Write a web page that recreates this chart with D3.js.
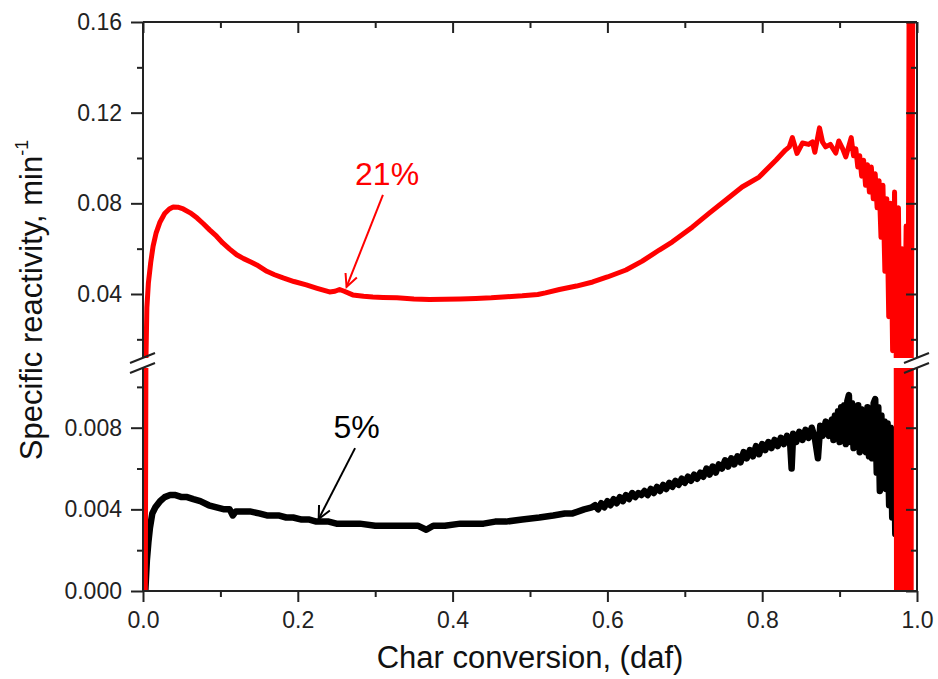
<html>
<head>
<style>
  body { margin: 0; background: #fff; }
  text { font-family: "Liberation Sans", Arial, sans-serif; }
</style>
</head>
<body>
<script src="https://cdn.jsdelivr.net/npm/d3@7"></script>
<script>
// char conversion vs specific reactivity
var red21 = [[0.003,0.0],[0.004,0.015],[0.005,0.034],[0.007,0.045],[0.010,0.054],[0.013,0.061],[0.017,0.067],
  [0.022,0.0718],[0.028,0.0755],[0.034,0.0775],[0.039,0.0784],[0.045,0.0783],[0.052,0.0775],[0.061,0.0758],
  [0.070,0.0735],[0.078,0.0710],[0.086,0.0683],[0.095,0.0655],[0.103,0.0625],[0.112,0.0598],[0.121,0.0573],
  [0.130,0.0556],[0.140,0.0540],[0.147,0.0528],[0.160,0.0500],[0.170,0.0485],[0.181,0.0471],[0.195,0.0455],
  [0.211,0.0440],[0.225,0.0425],[0.241,0.0409],[0.248,0.0412],[0.254,0.0420],[0.260,0.0412],[0.271,0.0396],
  [0.285,0.0390],[0.297,0.0387],[0.310,0.0385],[0.328,0.0383],[0.350,0.0378],[0.370,0.0376],[0.390,0.0377],
  [0.410,0.0378],[0.430,0.0380],[0.450,0.0383],[0.470,0.0388],[0.490,0.0392],[0.510,0.0398],[0.520,0.0405],
  [0.538,0.0420],[0.560,0.0435],[0.581,0.0453],[0.600,0.0475],[0.624,0.0506],[0.645,0.0545],[0.667,0.0594],
  [0.684,0.0630],[0.710,0.0696],[0.732,0.0758],[0.753,0.0815],[0.774,0.0872],[0.796,0.0916],[0.818,0.0991],
  [0.830,0.1035],[0.835,0.1049],[0.839,0.1090],[0.845,0.1020],[0.852,0.1066],[0.860,0.1060],[0.865,0.1071],
  [0.868,0.1025],[0.874,0.1133],[0.878,0.1070],[0.882,0.1049],[0.888,0.1060],[0.895,0.1022],[0.899,0.1075],
  [0.904,0.1040],[0.908,0.1005],[0.915,0.1090],[0.918,0.1010],[0.921,0.1040],[0.9235,0.0960],[0.926,0.1010],
  [0.9285,0.0920],[0.931,0.0990],[0.9335,0.0880],[0.936,0.0970],[0.9385,0.0850],[0.941,0.0960],[0.9435,0.0820],
  [0.946,0.0930],[0.9485,0.0780],[0.951,0.0900],[0.9535,0.0650],[0.956,0.0880],[0.9585,0.0500],[0.961,0.0820],
  [0.9635,0.0300],[0.966,0.0800],[0.9685,0.0150],[0.971,0.0850],[0.9735,0.0],[0.976,0.0780],[0.9785,0.0],
  [0.981,0.0600],[0.9835,0.0],[0.986,0.0700],[0.9885,0.0],[0.990,0.2000],[0.9925,0.0],[0.995,0.2000],[0.997,0.2000]];

var black5 = [[0.003,0.0],[0.005,0.0015],[0.007,0.0024],[0.009,0.0031],[0.012,0.0038],[0.016,0.0041],[0.022,0.0044],
  [0.028,0.0046],[0.035,0.0047],[0.042,0.0047],[0.050,0.0046],[0.057,0.0046],[0.065,0.0045],[0.074,0.0044],
  [0.085,0.0042],[0.095,0.0041],[0.105,0.0040],[0.112,0.0040],[0.116,0.0037],[0.120,0.0039],[0.130,0.0039],
  [0.138,0.0039],[0.150,0.0038],[0.160,0.0037],[0.175,0.0037],[0.185,0.0036],[0.194,0.0036],[0.205,0.0035],
  [0.215,0.0035],[0.224,0.0034],[0.240,0.0034],[0.250,0.0033],[0.263,0.0033],[0.280,0.0033],[0.300,0.0032],
  [0.320,0.0032],[0.340,0.0032],[0.355,0.0032],[0.366,0.0030],[0.375,0.0032],[0.390,0.0032],[0.410,0.0033],
  [0.426,0.0033],[0.440,0.0033],[0.455,0.0034],[0.469,0.0034],[0.490,0.0035],[0.512,0.0036],[0.530,0.0037],
  [0.545,0.0038],[0.555,0.0038],[0.570,0.0040],[0.580,0.0041],
  [0.584,0.0042],[0.588,0.0040],[0.592,0.0043],[0.596,0.0041],[0.600,0.0044],[0.604,0.0042],[0.608,0.0045],
  [0.612,0.0043],[0.616,0.0046],[0.620,0.0044],[0.624,0.0047],[0.628,0.0045],[0.632,0.0048],[0.636,0.0046],
  [0.640,0.0048],[0.644,0.0047],[0.648,0.0049],[0.652,0.0047],[0.656,0.0050],[0.660,0.0048],[0.664,0.0051],
  [0.668,0.0049],[0.672,0.0052],[0.676,0.0050],[0.680,0.0053],[0.684,0.0051],[0.688,0.0054],[0.692,0.0052],
  [0.696,0.0055],[0.700,0.0053],[0.704,0.0056],[0.708,0.0054],[0.712,0.0057],[0.716,0.0055],[0.720,0.0058],
  [0.724,0.0056],[0.728,0.0060],[0.732,0.0057],[0.736,0.0061],[0.740,0.0058],[0.744,0.0062],[0.748,0.0060],
  [0.752,0.0064],[0.756,0.0061],[0.760,0.0065],[0.764,0.0062],[0.768,0.0066],[0.772,0.0063],[0.776,0.0068],
  [0.780,0.0065],[0.784,0.0069],[0.788,0.0066],[0.792,0.0071],[0.796,0.0067],[0.800,0.0072],[0.804,0.0069],
  [0.808,0.0073],[0.812,0.0070],[0.816,0.0074],[0.820,0.0071],[0.824,0.0075],[0.828,0.0072],[0.832,0.0076],
  [0.836,0.0073],[0.838,0.0060],[0.840,0.0077],[0.844,0.0073],[0.848,0.0078],[0.852,0.0074],[0.856,0.0079],
  [0.860,0.0075],[0.864,0.0080],[0.868,0.0075],[0.872,0.0065],[0.875,0.0081],[0.878,0.0076],[0.882,0.0083],
  [0.886,0.0076],[0.890,0.0084],[0.892,0.0074],[0.894,0.0086],[0.896,0.0075],[0.898,0.0088],[0.900,0.0073],
  [0.902,0.0090],[0.904,0.0074],[0.906,0.0091],[0.908,0.0072],[0.910,0.0093],[0.912,0.0096],[0.914,0.0073],
  [0.916,0.0092],[0.918,0.0070],[0.920,0.0090],[0.922,0.0071],[0.924,0.0091],[0.926,0.0068],[0.928,0.0089],
  [0.930,0.0070],[0.932,0.0088],[0.934,0.0068],[0.936,0.0090],[0.938,0.0066],[0.940,0.0089],[0.942,0.0065],
  [0.944,0.0092],[0.946,0.0094],[0.948,0.0058],[0.950,0.0090],[0.952,0.0049],[0.954,0.0086],[0.956,0.0058],
  [0.958,0.0083],[0.960,0.0050],[0.962,0.0082],[0.964,0.0042],[0.966,0.0080],[0.968,0.0036],[0.970,0.0079],
  [0.972,0.0028],[0.974,0.0078],[0.976,0.0020],[0.977,0.0060],[0.978,0.0010],[0.979,0.0]];

var xTicks = [0, 0.2, 0.4, 0.6, 0.8, 1.0];
var xMinor = [0.1, 0.3, 0.5, 0.7, 0.9];
var upperTicks = [0.04, 0.08, 0.12, 0.16];
var upperMinor = [0.02, 0.06, 0.10, 0.14];
var lowerTicks = [0, 0.004, 0.008];
var lowerMinor = [0.002, 0.006, 0.010];

var W = 938, H = 679;
var pLeft = 143, pRight = 917, pTop = 22, pBottom = 591, breakTop = 358, breakBot = 368;

var svg = d3.select("body").append("svg").attr("width", W).attr("height", H);
svg.append("rect").attr("width", W).attr("height", H).attr("fill", "#fff");

var x = d3.scaleLinear().domain([0, 1]).range([pLeft, pRight]);
var yU = d3.scaleLinear().domain([0.01176, 0.16]).range([breakTop, pTop]);
var yL = d3.scaleLinear().domain([0, 0.010925]).range([pBottom, breakBot]);

var defs = svg.append("defs");
defs.append("clipPath").attr("id", "clipU").append("rect")
  .attr("x", pLeft).attr("y", pTop).attr("width", pRight - pLeft).attr("height", breakTop - pTop);
defs.append("clipPath").attr("id", "clipL").append("rect")
  .attr("x", pLeft).attr("y", breakBot).attr("width", pRight - pLeft).attr("height", pBottom - breakBot);

var panels = [{ y: yU, clip: "clipU" }, { y: yL, clip: "clipL" }];
var series = [{ data: black5, color: "#000", w: 6.5 }, { data: red21, color: "#ff0000", w: 5 }];

panels.forEach(function(p) {
  var g = svg.append("g").attr("clip-path", "url(#" + p.clip + ")");
  var line = d3.line().x(function(d) { return x(d[0]); }).y(function(d) { return p.y(d[1]); });
  series.forEach(function(s) {
    g.append("path").attr("d", line(s.data))
      .attr("fill", "none").attr("stroke", s.color).attr("stroke-width", s.w)
      .attr("stroke-linejoin", "round");
  });
});

// axes
function styleAxis(g) {
  g.select(".domain").remove();
  g.selectAll(".tick line").attr("stroke", "#222").attr("stroke-width", 2);
  g.selectAll(".tick text").attr("font-size", 23).attr("fill", "#222")
    .attr("font-family", "Liberation Sans, Arial, sans-serif");
}

svg.append("g").attr("transform", "translate(0," + pBottom + ")")
  .call(d3.axisBottom(x).tickValues(xTicks).tickSize(11).tickPadding(10).tickFormat(d3.format(".1f")))
  .call(styleAxis);
svg.append("g").attr("transform", "translate(0," + pBottom + ")")
  .call(d3.axisBottom(x).tickValues(xMinor).tickSize(6).tickFormat(""))
  .call(styleAxis);
svg.append("g").attr("transform", "translate(0," + pTop + ")")
  .call(d3.axisBottom(x).tickValues(xTicks).tickSize(11).tickFormat(""))
  .call(styleAxis);
svg.append("g").attr("transform", "translate(0," + pTop + ")")
  .call(d3.axisBottom(x).tickValues(xMinor).tickSize(6).tickFormat(""))
  .call(styleAxis);

[[yU, upperTicks, upperMinor, ".2f"], [yL, lowerTicks, lowerMinor, ".3f"]].forEach(function(a) {
  svg.append("g").attr("transform", "translate(" + pLeft + ",0)")
    .call(d3.axisLeft(a[0]).tickValues(a[1]).tickSize(12).tickPadding(9).tickFormat(d3.format(a[3])))
    .call(styleAxis);
  svg.append("g").attr("transform", "translate(" + pLeft + ",0)")
    .call(d3.axisLeft(a[0]).tickValues(a[2]).tickSize(6).tickFormat(""))
    .call(styleAxis);
  svg.append("g").attr("transform", "translate(" + pRight + ",0)")
    .call(d3.axisLeft(a[0]).tickValues(a[1]).tickSize(11).tickFormat(""))
    .call(styleAxis);
  svg.append("g").attr("transform", "translate(" + pRight + ",0)")
    .call(d3.axisLeft(a[0]).tickValues(a[2]).tickSize(6).tickFormat(""))
    .call(styleAxis);
});

// frame with gap at the break
var frame = svg.append("g").attr("stroke", "#222").attr("stroke-width", 2).attr("fill", "none");
frame.append("line").attr("x1", pLeft).attr("x2", pRight).attr("y1", pTop).attr("y2", pTop);
frame.append("line").attr("x1", pLeft).attr("x2", pRight).attr("y1", pBottom).attr("y2", pBottom);
[pLeft, pRight].forEach(function(xx) {
  frame.append("line").attr("x1", xx).attr("x2", xx).attr("y1", pTop).attr("y2", breakTop);
  frame.append("line").attr("x1", xx).attr("x2", xx).attr("y1", breakBot).attr("y2", pBottom);
  [breakTop, breakBot].forEach(function(yy) {
    frame.append("line").attr("x1", xx - 13).attr("y1", yy + 5).attr("x2", xx + 12).attr("y2", yy - 5);
  });
});

// annotations
function arrow(x1, y1, x2, y2, color) {
  var g = svg.append("g").attr("stroke", color).attr("stroke-width", 2).attr("fill", "none");
  g.append("line").attr("x1", x1).attr("y1", y1).attr("x2", x2).attr("y2", y2);
  var a = Math.atan2(y2 - y1, x2 - x1), L = 14, s = 0.45;
  g.append("polyline").attr("points", [
    [x2 - L * Math.cos(a - s), y2 - L * Math.sin(a - s)],
    [x2, y2],
    [x2 - L * Math.cos(a + s), y2 - L * Math.sin(a + s)]
  ].map(function(p) { return p.join(","); }).join(" "));
}

arrow(x(0.310), yU(0.0837), x(0.263), yU(0.0431), "#ff0000");
svg.append("text").attr("x", x(0.274)).attr("y", yU(0.0881))
  .attr("font-size", 32).attr("fill", "#ff0000").text("21%");

arrow(x(0.274), yL(0.0070), x(0.227), yL(0.00353), "#000");
svg.append("text").attr("x", x(0.246)).attr("y", yL(0.0075))
  .attr("font-size", 32).attr("fill", "#000").text("5%");

// axis titles
svg.append("text").attr("x", (pLeft + pRight) / 2).attr("y", 668)
  .attr("text-anchor", "middle").attr("font-size", 31).attr("fill", "#111")
  .text("Char conversion, (daf)");

var yt = svg.append("text").attr("transform", "translate(42,300) rotate(-90)")
  .attr("text-anchor", "middle").attr("font-size", 31).attr("fill", "#111");
yt.append("tspan").text("Specific reactivity, min");
yt.append("tspan").attr("font-size", 18).attr("dy", -14).text("-1");
</script>
</body>
</html>
